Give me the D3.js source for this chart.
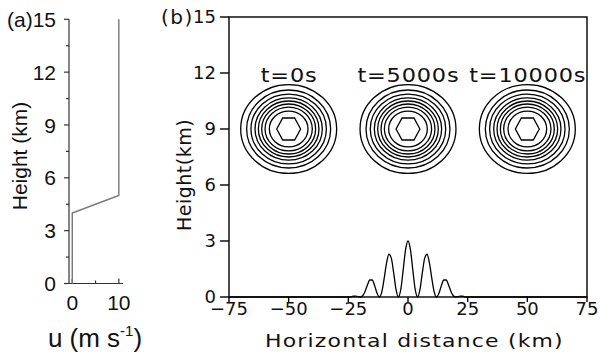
<!DOCTYPE html>
<html><head><meta charset="utf-8">
<script src="https://cdn.jsdelivr.net/npm/d3@7"></script>
<style>
html,body{margin:0;padding:0;background:#fff;}
svg{display:block;}
.a text{font-family:"Liberation Sans",Arial,sans-serif;}
.b text{font-family:"DejaVu Sans",sans-serif;}
</style></head>
<body>
<svg id="chart" width="600" height="355"></svg>
<script>
// ---------- data ----------
// panel (a): wind profile
const profileHeight = [0, 4, 5, 15];      // km
const profileU      = [0, 0, 10, 10];     // m/s
const aYTicks = [0, 3, 6, 9, 12, 15];
const aYMinor = [1.5, 4.5, 7.5, 10.5, 13.5];
const aXTicks = [0, 10];
const aXMinor = [5];

// panel (b): tracer bubbles and terrain
const bubbleCenters = [-50, 0, 50];       // km
const bubbleHeight = 9;                   // km
const bubbleLabels = ["t=0s", "t=5000s", "t=10000s"];
const contourRx = [20.1, 17.6, 15.8, 14.1, 12.7, 11.3, 9.9, 8.1, 5.0];   // km (horizontal half-width)
const contourRz = [2.38, 2.09, 1.87, 1.67, 1.50, 1.34, 1.17, 0.96, 0.59]; // km (vertical half-height)
const terrainX = [-75, -25,-24,-23,-22,-21,-20,-19,-18,-17,-16,-15,-14,-13,-12,-11,-10,-9,-8,-7,-6,-5,-4,-3,-2,-1,
                   0, 1,2,3,4,5,6,7,8,9,10,11,12,13,14,15,16,17,18,19,20,21,22,23,24,25, 75];
const terrainH = [0, 0,0.01,0.04,0.05,0.02,0,0.07,0.30,0.64,0.91,0.91,0.62,0.21,0,0.26,0.98,1.81,2.29,2.08,1.29,0.39,0,0.42,1.47,2.55,
                   3.00, 2.55,1.47,0.42,0,0.39,1.29,2.08,2.29,1.81,0.98,0.26,0,0.21,0.62,0.91,0.91,0.64,0.30,0.07,0,0.02,0.05,0.04,0.01,0, 0];
const bXTicks = [-75, -50, -25, 0, 25, 50, 75];
const bYTicks = [0, 3, 6, 9, 12, 15];

// ---------- drawing ----------
const svg = d3.select("#chart");

// ===== panel (a) =====
const ga = svg.append("g").attr("class", "a");
const xa = d3.scaleLinear().domain([-0.7, 10.9]).range([69, 123]);
const ya = d3.scaleLinear().domain([0, 15]).range([283.5, 19.3]);
const axCol = "#333";

ga.append("line").attr("x1", xa.range()[0]).attr("x2", xa.range()[0])
  .attr("y1", ya(0)).attr("y2", ya(15)).attr("stroke", axCol).attr("stroke-width", 1.2);
ga.append("line").attr("x1", xa.range()[0]).attr("x2", xa.range()[1])
  .attr("y1", ya(0)).attr("y2", ya(0)).attr("stroke", axCol).attr("stroke-width", 1.2);
ga.selectAll(".yt").data(aYTicks).join("line")
  .attr("x1", xa.range()[0] - 5).attr("x2", xa.range()[0])
  .attr("y1", d => ya(d)).attr("y2", d => ya(d)).attr("stroke", axCol).attr("stroke-width", 1.2);
ga.selectAll(".ym").data(aYMinor).join("line")
  .attr("x1", xa.range()[0] - 3).attr("x2", xa.range()[0])
  .attr("y1", d => ya(d)).attr("y2", d => ya(d)).attr("stroke", axCol).attr("stroke-width", 1.2);
ga.selectAll(".ytl").data(aYTicks).join("text")
  .attr("x", 56).attr("y", d => ya(d)).attr("dy", "0.36em")
  .attr("text-anchor", "end").attr("font-size", 21).attr("fill", "#111").text(d => d);
ga.selectAll(".xt").data(aXTicks).join("line")
  .attr("x1", d => xa(d)).attr("x2", d => xa(d))
  .attr("y1", ya(0)).attr("y2", ya(0) - 5).attr("stroke", axCol).attr("stroke-width", 1.2);
ga.selectAll(".xm").data(aXMinor).join("line")
  .attr("x1", d => xa(d)).attr("x2", d => xa(d))
  .attr("y1", ya(0)).attr("y2", ya(0) - 3).attr("stroke", axCol).attr("stroke-width", 1.2);
ga.selectAll(".xtl").data(aXTicks).join("text")
  .attr("x", d => xa(d)).attr("y", 310)
  .attr("text-anchor", "middle").attr("font-size", 21).attr("fill", "#111").text(d => d);
ga.append("path")
  .datum(d3.range(profileU.length))
  .attr("d", d3.line().x(i => xa(profileU[i])).y(i => ya(profileHeight[i])))
  .attr("fill", "none").attr("stroke", "#777").attr("stroke-width", 1.4);
ga.append("text").attr("x", 7).attr("y", ya(15)).attr("dy", "0.36em")
  .attr("font-size", 21).attr("fill", "#111").text("(a)");
ga.append("text").attr("transform", "translate(27,156) rotate(-90)")
  .attr("text-anchor", "middle").attr("font-size", 21).attr("fill", "#111").text("Height (km)");
const ul = ga.append("text").attr("x", 95).attr("y", 347)
  .attr("text-anchor", "middle").attr("font-size", 26).attr("fill", "#111");
ul.append("tspan").text("u (m s");
ul.append("tspan").attr("font-size", 15).attr("dy", -11).text("-1");
ul.append("tspan").attr("dy", 11).text(")");

// ===== panel (b) =====
const gb = svg.append("g").attr("class", "b");
const xb = d3.scaleLinear().domain([-75, 75]).range([229, 587]);
const yb = d3.scaleLinear().domain([0, 15]).range([297, 17]);

gb.append("rect").attr("x", xb(-75)).attr("y", yb(15))
  .attr("width", xb(75) - xb(-75)).attr("height", yb(0) - yb(15))
  .attr("fill", "none").attr("stroke", "#000").attr("stroke-width", 1.4);
gb.selectAll(".yt").data(bYTicks).join("line")
  .attr("x1", xb(-75) - 9).attr("x2", xb(-75))
  .attr("y1", d => yb(d)).attr("y2", d => yb(d)).attr("stroke", "#000").attr("stroke-width", 1.4);
gb.selectAll(".ytl").data(bYTicks).join("text")
  .attr("x", 216).attr("y", d => yb(d)).attr("dy", "0.34em")
  .attr("text-anchor", "end").attr("font-size", 18).attr("fill", "#111").text(d => d);
gb.selectAll(".xt").data(bXTicks).join("line")
  .attr("x1", d => xb(d)).attr("x2", d => xb(d))
  .attr("y1", yb(0)).attr("y2", yb(0) + 5).attr("stroke", "#000").attr("stroke-width", 1.4);
gb.selectAll(".xtl").data(bXTicks).join("text")
  .attr("x", d => xb(d)).attr("y", 315)
  .attr("text-anchor", "middle").attr("font-size", 18).attr("fill", "#111")
  .text(d => d < 0 ? "\u2212" + Math.abs(d) : d);

// terrain
gb.append("path")
  .datum(d3.range(terrainX.length))
  .attr("d", d3.line().curve(d3.curveMonotoneX).x(i => xb(terrainX[i])).y(i => yb(terrainH[i])))
  .attr("fill", "none").attr("stroke", "#000").attr("stroke-width", 1.3);

// bubbles
const kx = (xb(1) - xb(0)), kz = (yb(0) - yb(1));
bubbleCenters.forEach(c => {
  const cx = xb(c), cy = yb(bubbleHeight);
  contourRx.forEach((rx, i) => {
    const rz = contourRz[i];
    if (i === contourRx.length - 1) {
      const pts = d3.range(6).map(k => {
        const a = k * Math.PI / 3;
        return [cx + rx * kx * Math.cos(a), cy - (rz * kz / Math.sin(Math.PI / 3)) * Math.sin(a)];
      });
      gb.append("path").attr("d", d3.line().curve(d3.curveLinearClosed)(pts))
        .attr("fill", "none").attr("stroke", "#000").attr("stroke-width", 1.3);
    } else {
      gb.append("ellipse").attr("cx", cx).attr("cy", cy)
        .attr("rx", rx * kx).attr("ry", rz * kz)
        .attr("fill", "none").attr("stroke", "#000").attr("stroke-width", 1.3);
    }
  });
});
gb.selectAll(".tl").data(bubbleLabels).join("text")
  .attr("transform", (d, i) => `translate(${xb(bubbleCenters[i]) + 0.4},82) scale(1.18,1)`)
  .attr("text-anchor", "middle").attr("font-size", 19).attr("letter-spacing", 0.7)
  .attr("fill", "#111").text(d => d);

gb.append("text").attr("x", 161).attr("y", yb(15)).attr("dy", "0.36em")
  .attr("font-size", 20).attr("letter-spacing", 1.5).attr("fill", "#111").text("(b)");
gb.append("text").attr("transform", "translate(265,347) scale(1.22,1)")
  .attr("font-size", 18).attr("textLength", 244).attr("lengthAdjust", "spacing")
  .attr("fill", "#111").text("Horizontal distance (km)");
gb.append("text").attr("transform", "translate(191,175) rotate(-90)")
  .attr("text-anchor", "middle").attr("font-size", 19).attr("letter-spacing", 0.5)
  .attr("fill", "#111").text("Height(km)");
</script>
</body></html>
